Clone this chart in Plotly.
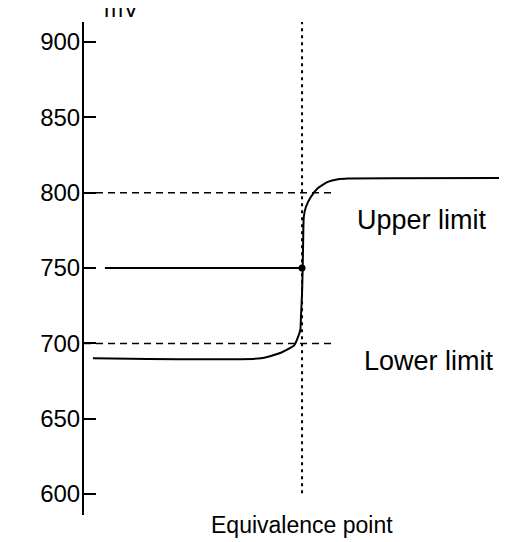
import plotly.graph_objects as go

# Data
titrant_ml = [0.41, 8.11, 9.03, 9.65, 9.92, 9.95, 10.0, 10.03, 10.05, 10.08, 10.18,
              10.41, 10.72, 11.18, 11.65, 12.11, 19.4]
potential_mv = [690.2, 690.1, 693.8, 698.9, 708.9, 717.7, 733.2, 750.9, 766.4, 784.0,
                790.7, 797.3, 802.9, 807.2, 809.0, 809.5, 809.8]
lower_limit = 700
upper_limit = 800
limit_line_end = 11.55
eq_volume = 10.0
eq_potential = 750
eq_line_start = 0.96
y_ticks = [600, 650, 700, 750, 800, 850, 900]

FONT = "Liberation Sans, Arial, sans-serif"

fig = go.Figure()

# limit lines (dashed)
for lim in [upper_limit, lower_limit]:
    fig.add_trace(go.Scatter(x=[0, limit_line_end], y=[lim, lim], mode="lines",
                             line=dict(color="black", width=1.5, dash="7px,5px"),
                             hoverinfo="skip", showlegend=False))

# equivalence vertical dotted line
fig.add_trace(go.Scatter(x=[eq_volume, eq_volume], y=[600.5, 913.3], mode="lines",
                         line=dict(color="black", width=2, dash="3px,4px"),
                         hoverinfo="skip", showlegend=False))

# horizontal line at equivalence potential
fig.add_trace(go.Scatter(x=[eq_line_start, eq_volume], y=[eq_potential, eq_potential],
                         mode="lines", line=dict(color="black", width=2),
                         hoverinfo="skip", showlegend=False))

# titration curve
fig.add_trace(go.Scatter(x=titrant_ml, y=potential_mv, mode="lines",
                         line=dict(color="black", width=2, shape="spline", smoothing=0.5),
                         showlegend=False))

# equivalence point marker
fig.add_trace(go.Scatter(x=[eq_volume], y=[eq_potential], mode="markers",
                         marker=dict(color="black", size=7), showlegend=False))

fig.update_xaxes(range=[0, 19.4], visible=False, fixedrange=True)
fig.update_yaxes(range=[586.1, 913.3], tickvals=y_ticks, ticks="inside", ticklen=12,
                 tickwidth=2, tickcolor="black", showline=True, linewidth=2,
                 linecolor="black", showgrid=False, zeroline=False,
                 tickfont=dict(family=FONT, size=24, color="black"),
                 ticklabelstandoff=-3)

annotations = [
    dict(x=15.5, y=782, xref="x", yref="y", text="Upper limit", showarrow=False,
         font=dict(family=FONT, size=27, color="black"), xanchor="center", yanchor="middle"),
    dict(x=15.8, y=688, xref="x", yref="y", text="Lower limit", showarrow=False,
         font=dict(family=FONT, size=27, color="black"), xanchor="center", yanchor="middle"),
    dict(x=eq_volume, y=-0.02, xref="x", yref="paper", text="Equivalence point",
         showarrow=False, font=dict(family=FONT, size=23, color="black"),
         xanchor="center", yanchor="middle"),
    dict(x=1.7, y=0.996, xref="x", yref="paper", text="mV", showarrow=False,
         font=dict(family=FONT, size=23, color="black"), xanchor="center", yanchor="bottom"),
]
# page body has an 8px margin: figure spans 8..507 horizontally and 8..542 vertically
fig.update_layout(
    width=499, height=534,
    margin=dict(l=76, r=0, t=14, b=27),
    plot_bgcolor="white", paper_bgcolor="white",
    annotations=annotations,
    showlegend=False,
)

fig.write_html("out.html")
